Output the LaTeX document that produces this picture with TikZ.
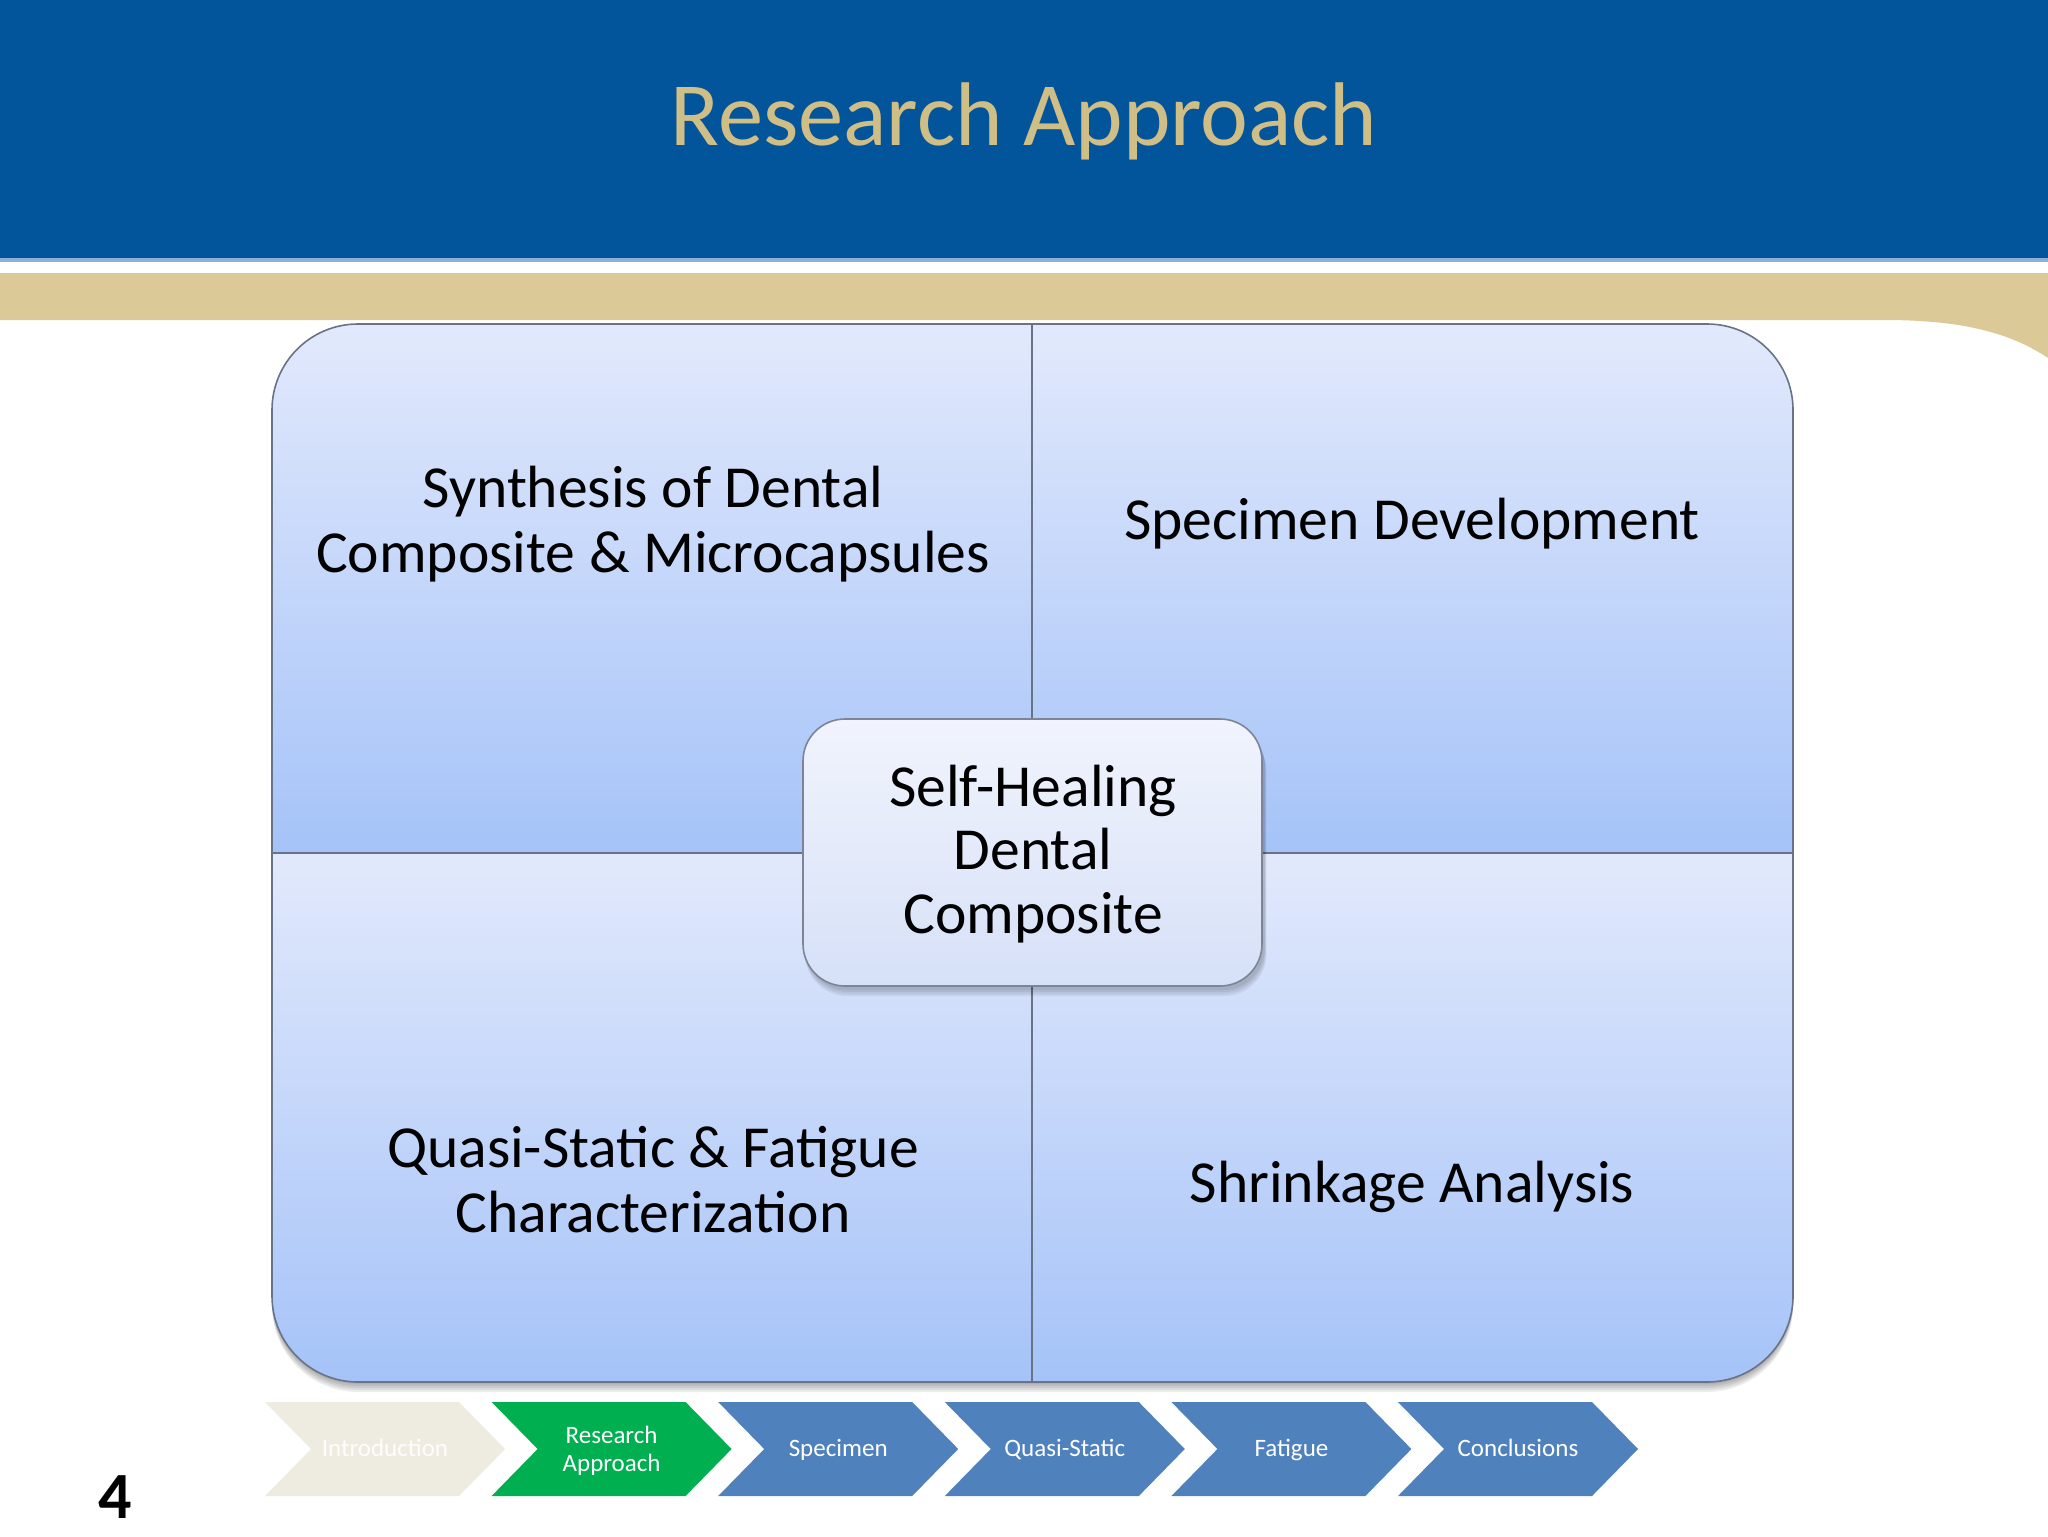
\documentclass[tikz,border=0pt]{standalone}
\usepackage{fontspec}
\setmainfont{Carlito}
\definecolor{headblue}{RGB}{2,84,155}
\definecolor{headline}{RGB}{140,175,215}
\definecolor{gold}{RGB}{219,201,152}
\definecolor{titlegold}{RGB}{207,190,134}
\definecolor{quadtop}{RGB}{226,233,252}
\definecolor{quadbot}{RGB}{165,195,248}
\definecolor{quadline}{RGB}{105,115,135}
\definecolor{coretop}{RGB}{241,244,253}
\definecolor{corebot}{RGB}{214,224,247}
\definecolor{coreline}{RGB}{125,132,150}
\definecolor{introc}{RGB}{238,236,225}
\definecolor{greenc}{RGB}{0,176,80}
\definecolor{bluec}{RGB}{79,129,189}
\tikzset{
  quad/.style={top color=quadtop, bottom color=quadbot, draw=quadline, line width=0.8pt},
  quadtext/.style={anchor=base, inner sep=0pt, font=\fontsize{29.8}{32.5}\selectfont},
  chevtext/.style={anchor=base, inner sep=0pt, text=white, font=\fontsize{12.5}{14}\selectfont},
  shad/.style={fill=black, opacity=0.07}
}
\begin{document}
\begin{tikzpicture}[x=0.5pt,y=-0.5pt]
\path[use as bounding box] (0,0) rectangle (2048,1536);
\fill[white] (0,0) rectangle (2048,1536);
% header
\fill[headblue] (0,0) rectangle (2048,258);
\fill[headline] (0,258) rectangle (2048,262);
\fill[gold] (0,273) -- (2048,273) -- (2048,358) .. controls (2015,336) and (1970,320) .. (1885,320) -- (0,320) -- cycle;
\node[anchor=base, inner sep=0pt, text=titlegold, font=\fontsize{45.2}{50}\selectfont] (title) at (1024,145) {Research Approach};
% main box shadow
\foreach \s in {2,4,6,8,10}{
\fill[shad, shift={(0,\s)}] (272,410) .. controls (272,362.5) and (310.5,324) .. (358,324) -- (1707,324) .. controls (1754.5,324) and (1793,362.5) .. (1793,410) -- (1793,1296) .. controls (1793,1343.5) and (1754.5,1382) .. (1707,1382) -- (358,1382) .. controls (310.5,1382) and (272,1343.5) .. (272,1296) -- cycle;
}
% quadrants
\path[quad] (272,853) -- (272,410) .. controls (272,362.5) and (310.5,324) .. (358,324) -- (1032,324) -- (1032,853) -- cycle;
\path[quad] (1032,853) -- (1032,324) -- (1707,324) .. controls (1754.5,324) and (1793,362.5) .. (1793,410) -- (1793,853) -- cycle;
\path[quad] (272,853) -- (1032,853) -- (1032,1382) -- (358,1382) .. controls (310.5,1382) and (272,1343.5) .. (272,1296) -- cycle;
\path[quad] (1032,853) -- (1793,853) -- (1793,1296) .. controls (1793,1343.5) and (1754.5,1382) .. (1707,1382) -- (1032,1382) -- cycle;
% quadrant texts
\node[quadtext] (synth) at (653,507) {\begin{tabular}[t]{@{}c@{}}Synthesis of Dental\\Composite \& Microcapsules\end{tabular}};
\node[quadtext] (spec) at (1412,539) {Specimen Development};
\node[quadtext] (quasi) at (653,1167) {\begin{tabular}[t]{@{}c@{}}Quasi-Static \& Fatigue\\Characterization\end{tabular}};
\node[quadtext] (shrink) at (1412,1202) {Shrinkage Analysis};
% center box
\foreach \s in {2,4,6,8}{
\fill[shad, opacity=0.06, rounded corners=21pt] (805,721+\s) rectangle (1264+\s*0.3,988+\s);
}
\node[draw=coreline, line width=0.8pt, top color=coretop, bottom color=corebot, rounded corners=21pt, minimum width=229.5pt, minimum height=133.5pt, inner sep=0pt] (core) at (1032.5,852.5) {};
\node[anchor=base, inner sep=0pt, font=\fontsize{29.8}{31.8}\selectfont] (coretext) at (1033,806) {\begin{tabular}[t]{@{}c@{}}Self-Healing\\Dental\\Composite\end{tabular}};
% chevrons
\fill[introc] (265,1402) -- (459,1402) -- (505,1449) -- (459,1496) -- (265,1496) -- (311,1449) -- cycle;
\fill[greenc] (491.6,1402) -- (685.6,1402) -- (731.6,1449) -- (685.6,1496) -- (491.6,1496) -- (537.6,1449) -- cycle;
\fill[bluec] (718.2,1402) -- (912.2,1402) -- (958.2,1449) -- (912.2,1496) -- (718.2,1496) -- (764.2,1449) -- cycle;
\fill[bluec] (944.8,1402) -- (1138.8,1402) -- (1184.8,1449) -- (1138.8,1496) -- (944.8,1496) -- (990.8,1449) -- cycle;
\fill[bluec] (1171.4,1402) -- (1365.4,1402) -- (1411.4,1449) -- (1365.4,1496) -- (1171.4,1496) -- (1217.4,1449) -- cycle;
\fill[bluec] (1398,1402) -- (1592,1402) -- (1638,1449) -- (1592,1496) -- (1398,1496) -- (1444,1449) -- cycle;
\node[chevtext, text=white!92!introc] (intro) at (385,1456) {Introduction};
\node[chevtext] (resap) at (611.6,1443) {\begin{tabular}[t]{@{}c@{}}Research\\Approach\end{tabular}};
\node[chevtext] (specimen) at (838.2,1456) {Specimen};
\node[chevtext] (qs) at (1064.8,1456) {Quasi-Static};
\node[chevtext] (fat) at (1291.4,1456) {Fatigue};
\node[chevtext] (concl) at (1518,1456) {Conclusions};
% page number
\node[anchor=base, inner sep=0pt, font=\fontsize{33}{36}\selectfont\bfseries] (pagenum) at (115,1518) {4};
\end{tikzpicture}
\end{document}
